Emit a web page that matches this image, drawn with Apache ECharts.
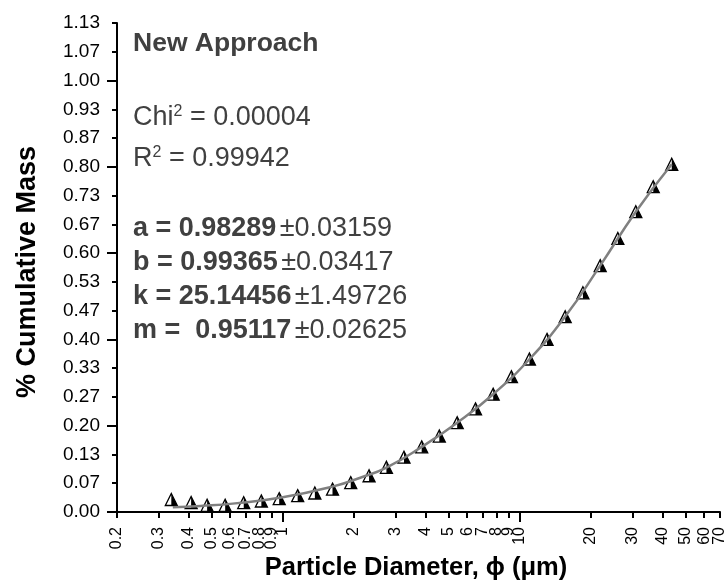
<!DOCTYPE html>
<html>
<head>
<meta charset="utf-8">
<script src="https://cdn.jsdelivr.net/npm/echarts@6/dist/echarts.min.js"></script>
<style>
  html, body { margin: 0; padding: 0; background: #fff; }
  #main { width: 726px; height: 586px; }
</style>
</head>
<body>
<div id="main"></div>
<script>
// measured points: particle diameter (um) and cumulative mass
const diameters = [0.339, 0.411, 0.480, 0.572, 0.685, 0.813, 0.967, 1.157, 1.367, 1.623,
  1.937, 2.315, 2.74, 3.25, 3.86, 4.58, 5.45, 6.51, 7.73, 9.23,
  10.99, 13.04, 15.56, 18.48, 21.86, 25.95, 30.9, 36.6, 43.8];
const massValues = [0.029, 0.022, 0.0155, 0.0155, 0.0216, 0.0255, 0.031, 0.038, 0.044, 0.053,
  0.068, 0.084, 0.1036, 0.127, 0.151, 0.176, 0.207, 0.239, 0.273, 0.3136,
  0.3546, 0.400, 0.4526, 0.508, 0.571, 0.634, 0.696, 0.754, 0.806];

// fitted curve
const fitDiameters = [0.344, 0.45, 0.63, 1.0, 1.65, 2.14, 2.74, 3.86, 5.45, 7.73, 10.99, 15.56, 21.86, 30.9, 43.8];
const fitValues = [0.011, 0.014, 0.020, 0.034, 0.060, 0.080, 0.103, 0.151, 0.207, 0.273, 0.354, 0.453, 0.571, 0.696, 0.806];

// axis ticks
const xTicks = [0.2, 0.3, 0.4, 0.5, 0.6, 0.7, 0.8, 0.9, 1, 2, 3, 4, 5, 6, 7, 8, 9, 10, 20, 30, 40, 50, 60, 70];
const xMajorTicks = [1, 10];
const yMajorTicks = [0, 0.2, 0.4, 0.6, 0.8, 1.0];
const yStep = 1 / 15;
const yMax = 17 / 15;

const FONT = 'Liberation Sans, Arial, sans-serif';
const TEXT_GRAY = '#404040';

const points = diameters.map((d, i) => [d, massValues[i]]);
const fitLine = fitDiameters.map((d, i) => [d, fitValues[i]]);

let myChart = echarts.init(document.getElementById('main'), null, { renderer: 'canvas' });

// superscript style shared by the two stat lines
const statRich = {
  n: { fontSize: 27, fontFamily: FONT, fill: TEXT_GRAY, lineHeight: 27 },
  s: { fontSize: 16, fontFamily: FONT, fill: TEXT_GRAY, lineHeight: 12, verticalAlign: 'top' }
};

const option = {
  animation: false,
  backgroundColor: '#fff',
  grid: { left: 117, right: 6, top: 23, bottom: 74, containLabel: false, outerBoundsMode: 'none' },
  xAxis: [
    {
      type: 'log', logBase: 10, min: 0.2, max: 70,
      position: 'bottom',
      axisLine: { lineStyle: { color: '#000', width: 2 } },
      axisTick: { customValues: xTicks, length: 6, lineStyle: { color: '#000', width: 2 } },
      axisLabel: {
        customValues: xTicks, rotate: 90, margin: 15,
        color: '#000', fontSize: 16, fontFamily: FONT,
        formatter: v => String(+(+v).toPrecision(3))
      },
      splitLine: { show: false },
      minorTick: { show: false }
    },
    {
      // longer ticks at decades
      type: 'log', logBase: 10, min: 0.2, max: 70,
      position: 'bottom',
      axisLine: { show: false },
      axisTick: { customValues: xMajorTicks, length: 10, lineStyle: { color: '#000', width: 2 } },
      axisLabel: { show: false },
      splitLine: { show: false }
    }
  ],
  yAxis: [
    {
      type: 'value', min: 0, max: yMax, interval: yStep,
      position: 'left',
      axisLine: { show: true, lineStyle: { color: '#000', width: 2 } },
      axisTick: { show: true, length: 5, lineStyle: { color: '#000', width: 2 } },
      axisLabel: {
        margin: 17, color: '#000', fontSize: 19, fontFamily: FONT,
        formatter: v => v.toFixed(2)
      },
      splitLine: { show: false }
    },
    {
      type: 'value', min: 0, max: yMax,
      position: 'left',
      axisLine: { show: false },
      axisTick: { show: true, customValues: yMajorTicks, length: 10, lineStyle: { color: '#000', width: 2 } },
      axisLabel: { show: false },
      splitLine: { show: false }
    }
  ],
  series: [
    {
      // open triangle
      type: 'scatter', data: points,
      symbol: 'triangle', symbolSize: 12,
      itemStyle: { color: '#fff', borderColor: '#000', borderWidth: 1.3, opacity: 1 },
      z: 2
    },
    {
      // right half filled
      type: 'scatter', data: points,
      symbol: 'path://M5,0 L10,10 L5,10 Z', symbolSize: [6, 12], symbolOffset: [3, 0],
      itemStyle: { color: '#000', opacity: 1 },
      z: 3
    },
    {
      type: 'line', data: fitLine, smooth: true,
      showSymbol: false, symbol: 'none',
      lineStyle: { color: '#808080', width: 2.5 },
      z: 4
    }
  ],
  graphic: [
    {
      type: 'text', left: 133, top: 30,
      style: { text: 'New Approach', fill: TEXT_GRAY, font: 'bold 26.5px ' + FONT }
    },
    {
      type: 'text', left: 133, top: 104,
      style: { text: '{n|Chi}{s|2}{n| = 0.00004}', rich: statRich }
    },
    {
      type: 'text', left: 133, top: 145,
      style: { text: '{n|R}{s|2}{n| = 0.99942}', rich: statRich }
    },
    {
      type: 'text', left: 133, top: 215,
      style: {
        text: '{b|a = 0.98289} {n|±0.03159}\n{b|b = 0.99365} {n|±0.03417}\n{b|k = 25.14456} {n|±1.49726}\n{b|m =  0.95117} {n|±0.02625}',
        rich: {
          b: { fontSize: 27, fontWeight: 'bold', fontFamily: FONT, fill: TEXT_GRAY, lineHeight: 34 },
          n: { fontSize: 27, fontFamily: FONT, fill: TEXT_GRAY, lineHeight: 34 }
        }
      }
    },
    {
      type: 'text', x: 416, y: 568,
      style: {
        text: 'Particle Diameter, \u03d5 (\u03bcm)', fill: '#000',
        font: 'bold 25.5px ' + FONT, align: 'center', verticalAlign: 'middle'
      }
    },
    {
      type: 'text', x: 28, y: 272, rotation: Math.PI / 2,
      style: {
        text: '% Cumulative Mass', fill: '#000',
        font: 'bold 27px ' + FONT, align: 'center', verticalAlign: 'middle'
      }
    }
  ]
};

myChart.setOption(option);
</script>
</body>
</html>
